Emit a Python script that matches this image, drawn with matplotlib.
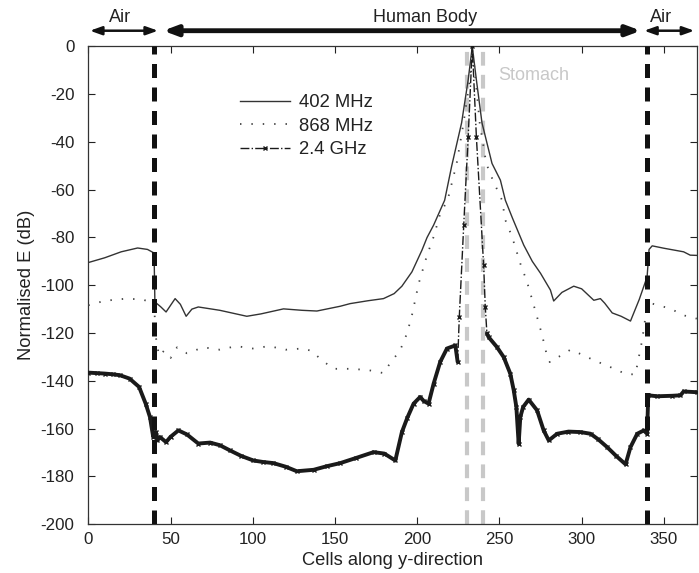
import numpy as np
import matplotlib
matplotlib.use("Agg")
import matplotlib.pyplot as plt

plt.rcParams['font.family'] = ['Liberation Sans', 'DejaVu Sans']
plt.rcParams['axes.unicode_minus'] = False

# ---------------- data ----------------
x402 = [0, 10, 20, 30, 36, 40, 40.5, 44, 47.3, 52.8, 56, 59.5, 63, 66.9, 80, 96.4, 105, 118.7,
        130, 139, 153.2, 159.2, 170, 179.5, 186, 190.7, 196.8, 202.9, 206, 210, 216.7, 221, 227,
        231, 233.5, 236, 239.4, 245.5, 250.6, 253.6, 258, 264.8, 270, 275, 281, 283, 288, 295.2,
        300, 307.4, 311.4, 314, 318.6, 324, 329.7, 335, 339.8, 341, 342.9, 350, 362, 366, 370]
y402 = [-90.5, -88.5, -86, -84.4, -85, -86.5, -107, -109, -111.2, -105.6, -108, -113, -110, -109.1,
        -110.5, -113, -112, -109.9, -110.5, -110.8, -108.8, -107.7, -106.5, -105.6, -103.5, -100.4,
        -94.4, -85.3, -80, -74.8, -64.4, -50, -32, -14, 0, -14, -32, -49, -56, -64.4, -72, -83.2,
        -90, -95, -102, -106.6, -103, -100.4, -101.5, -106.3, -105.6, -107.5, -111.6, -113, -115,
        -106, -96.5, -85, -83.5, -84.5, -86, -87.4, -87.5]

x868 = [0, 10, 23.3, 33, 40, 41, 43, 46, 50, 54, 60, 70, 80, 90, 100, 110, 120, 130, 136, 140.8,
        149, 159.2, 170, 179.5, 183.5, 189.6, 193.8, 196.8, 200.9, 206, 210, 214, 218.5, 224, 228.2,
        232, 233.5, 235.5, 238, 242, 246, 251.6, 253.6, 257.7, 262.7, 266.8, 269.9, 272.9, 276,
        278.6, 280.6, 286, 293.2, 300, 307.4, 317.5, 327.3, 332.7, 336.8, 338.8, 340, 342.9, 354,
        362, 370]
y868 = [-108.4, -106.5, -105.6, -106, -107.5, -121.4, -129.5, -127.5, -130.5, -126, -128.5, -126,
        -127, -125.5, -126.5, -125.5, -127, -126.5, -127.5, -130.7, -135, -135, -135.5, -136.8,
        -132.7, -127.3, -120.2, -112.6, -99.3, -87.4, -79.7, -70, -64.4, -49, -32, -14, 0, -14,
        -32, -49, -56, -64.4, -72.7, -79.7, -90.9, -98.6, -106, -113.3, -121, -128.6, -132.2,
        -130, -127, -129, -131.4, -134.3, -137.3, -137.3, -123, -113.3, -108.5, -107.7, -109.8,
        -112.6, -114]

x24 = [0, 5, 10, 15, 19.3, 25.1, 30.9, 34.9, 37.5, 39.5, 41, 42, 43.6, 47.3, 50, 54.8, 60, 66.9,
       74.1, 80, 86.2, 93, 100.4, 106, 112.6, 120, 126.8, 137, 145, 153.2, 163, 173.5, 180, 186.7,
       190.7, 194, 197.8, 201.8, 204, 206.9, 210, 214, 218.1, 223.2, 224.6, 225.6, 228.3, 231,
       233.5, 236, 240.4, 241.4, 242.4, 243.4, 248.5, 252.6, 256.6, 258.7, 260.3, 261.7, 262.7,
       264.4, 267.8, 272.9, 276.9, 280, 285.1, 292, 299.3, 305.4, 310, 315.5, 321, 326.7, 329.7,
       333.8, 337.8, 339.8, 340.5, 346, 355, 360.1, 362, 370]
y24 = [-136.6, -136.8, -137, -137.3, -137.7, -139.1, -142.6, -149.6, -155.2, -163.6, -161.5, -165,
       -163.6, -165.7, -163.5, -160.8, -162.5, -166.3, -165.9, -167, -169.2, -171.5, -173.4, -174,
       -174.5, -176, -177.9, -177.3, -175.8, -174.5, -172.3, -169.9, -170.5, -173.4, -161.5,
       -155.5, -149.6, -146.8, -148.5, -149.6, -141.2, -132.1, -126.5, -125.2, -132.1, -113.3,
       -74.8, -38, 0, -38, -91.6, -109.1, -120.2, -121.7, -125.9, -130.1, -137, -144, -151,
       -166.4, -155.2, -151, -147.9, -152.4, -160.8, -165, -162.2, -161.3, -161.5, -162.2, -164.5,
       -167.8, -171.5, -175, -167.8, -162.2, -160.8, -162.2, -146.1, -146.5, -146.3, -146.1,
       -144.5, -144.8]

labels = ["402 MHz", "868 MHz", "2.4 GHz"]
air_bounds = [40, 340]
stomach_bounds = [230, 240]
xticks = [0, 50, 100, 150, 200, 250, 300, 350]
yticks = [0, -20, -40, -60, -80, -100, -120, -140, -160, -180, -200]

# ---------------- figure ----------------
fig = plt.figure(figsize=(6.99, 5.73), dpi=100)
ax = fig.add_axes([0.1263, 0.0855, 0.8705, 0.8334])
FS_TICK = 12.2
FS_LAB = 13.2
FS_LEG = 13.3
FS_TXT = 13.0
TXT = '#222222'

for xb in stomach_bounds:
    ax.axvline(xb, color='#c8c8c8', lw=3.0, dashes=(3.3, 2.2), zorder=1)
for xb in air_bounds:
    ax.axvline(xb, color='#111111', lw=3.6, dashes=(2.8, 1.9), zorder=5)

ax.plot(x402, y402, color='#333333', lw=1.0, label=labels[0], zorder=3)
ax.plot(x868, y868, color='#444444', lw=1.3, dashes=(0.8, 5.5), label=labels[1], zorder=3)

y24a = np.array(y24, dtype=float)
band = np.where(y24a < -120, y24a, np.nan)
ax.plot(x24, band, color='#1a1a1a', lw=2.8, zorder=3, solid_capstyle='round')
ax.plot(x24, y24, color='#1a1a1a', lw=1.0, linestyle='-.', marker='x', ms=3.5, mew=1.0,
        label=labels[2], zorder=3)

ax.set_xlim(0, 370)
ax.set_ylim(-200, 0)
ax.set_xticks(xticks)
ax.set_yticks(yticks)
ax.tick_params(direction='in', length=5, width=0.8, top=True, right=True,
               labelsize=FS_TICK, colors=TXT)
ax.tick_params(axis='x', pad=6)
ax.tick_params(axis='y', pad=10)
for s in ax.spines.values():
    s.set_linewidth(0.9)
    s.set_color('#333333')
ax.set_xlabel("Cells along y-direction", fontsize=FS_LAB, color=TXT, labelpad=3.5)
ax.set_ylabel("Normalised E (dB)", fontsize=FS_LAB, color=TXT, labelpad=4)

leg = ax.legend(loc='upper left', bbox_to_anchor=(0.249, 0.9), frameon=False, fontsize=FS_LEG,
                handlelength=2.7, handletextpad=0.5, labelspacing=0.35, borderpad=0,
                borderaxespad=0)
for t in leg.get_texts():
    t.set_color(TXT)

ax.text(249, -12, "Stomach", color='#c8c8c8', fontsize=FS_TXT, va='center', ha='left')

# region arrows above the plot
ya = 6.6
ax.annotate('', xy=(1, ya), xytext=(42.4, ya), annotation_clip=False,
            arrowprops=dict(arrowstyle='<|-|>,head_length=0.7,head_width=0.25',
                            lw=1.8, color='#111111', shrinkA=0, shrinkB=0))
ax.annotate('', xy=(45.5, ya), xytext=(336, ya), annotation_clip=False,
            arrowprops=dict(arrowstyle='<|-|>,head_length=0.8,head_width=0.3',
                            lw=3.5, color='#111111', shrinkA=0, shrinkB=0))
ax.annotate('', xy=(338, ya), xytext=(368.5, ya), annotation_clip=False,
            arrowprops=dict(arrowstyle='<|-|>,head_length=0.7,head_width=0.25',
                            lw=1.8, color='#111111', shrinkA=0, shrinkB=0))
ax.text(19.5, 8.6, "Air", fontsize=FS_TXT, ha='center', va='bottom', color=TXT, clip_on=False)
ax.text(205, 8.6, "Human Body", fontsize=FS_TXT, ha='center', va='bottom', color=TXT, clip_on=False)
ax.text(348, 8.6, "Air", fontsize=FS_TXT, ha='center', va='bottom', color=TXT, clip_on=False)

fig.savefig("out.png", dpi=100)
